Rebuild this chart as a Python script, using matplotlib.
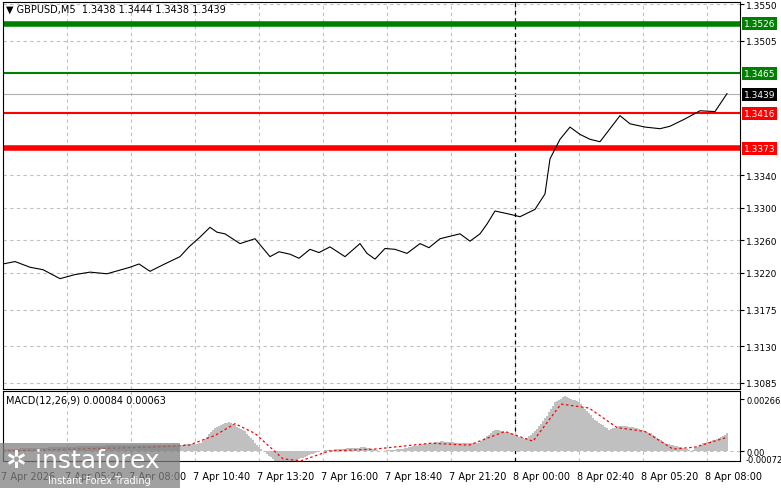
import matplotlib
matplotlib.use("Agg")
import matplotlib.pyplot as plt
import numpy as np
from matplotlib.patches import Rectangle

# bar index (5-min bars from 7 Apr 02:40)
price_bars = [0, 6, 13.5, 20, 28.5, 36, 43.5, 52, 63.5, 68, 73.5, 80, 88.5, 93, 98.5, 103.5, 107, 111, 118.5, 126, 133.5, 138, 143.5, 148, 153.5, 158, 163.5, 171, 178.5, 182, 186, 191, 196, 202, 208.5, 213, 218.5, 228.5, 233.5, 238.5, 242, 246, 253.5, 258.5, 266, 271, 273.5, 278.5, 283.5, 288.5, 293.5, 298.5, 303.5, 308.5, 313.5, 321, 328.5, 333.5, 341, 348.5, 356, 362]
prices = [1.3231, 1.3234, 1.3227, 1.3224, 1.3213, 1.3218, 1.3221, 1.3219, 1.3227, 1.3231, 1.3222, 1.3230, 1.3240, 1.3252, 1.3264, 1.3276, 1.3270, 1.3268, 1.3256, 1.3262, 1.3240, 1.3246, 1.3243, 1.3238, 1.3249, 1.3245, 1.3252, 1.3240, 1.3256, 1.3244, 1.3237, 1.3250, 1.3249, 1.3244, 1.3256, 1.3251, 1.3262, 1.3268, 1.3259, 1.3268, 1.3280, 1.3296, 1.3292, 1.3289, 1.3298, 1.3317, 1.3360, 1.3384, 1.3399, 1.3390, 1.3384, 1.3381, 1.3397, 1.3413, 1.3403, 1.3399, 1.3397, 1.3400, 1.3409, 1.3419, 1.3418, 1.3440]

macd_bars = [0, 28, 56, 86, 99, 106, 113, 121, 128, 136, 143, 151, 158, 168, 181, 189, 199, 208, 219, 229, 238, 246, 254, 261, 266, 272, 276, 281, 288, 296, 303, 309, 316, 324, 331, 339, 344, 350, 357, 362]
macd_hist = [0.0001, 0.0002, 0.0003, 0.0003, 0.0004, 0.0012, 0.0015, 0.0010, 0.0002, -0.0005, -0.0006, -0.0003, 0.0000, 0.0001, 0.0002, 0.0000, 0.0001, 0.0003, 0.0005, 0.0004, 0.0004, 0.0011, 0.0009, 0.0006, 0.0010, 0.0018, 0.0025, 0.0028, 0.0025, 0.0016, 0.0011, 0.0013, 0.0012, 0.0009, 0.0004, 0.0002, 0.0000, 0.0004, 0.0006, 0.0009]
sig_bars = [0, 37, 74, 93, 106, 116, 126, 140, 149, 163, 186, 214, 233, 251, 265, 279, 293, 307, 321, 335, 346, 362]
signal = [0.0000, 0.0001, 0.0002, 0.0003, 0.0008, 0.0014, 0.0009, -0.0004, -0.0005, 0.0000, 0.0001, 0.0004, 0.0003, 0.0010, 0.0005, 0.0024, 0.0022, 0.0012, 0.0010, 0.0001, 0.0002, 0.0007]

tick_bars = [0, 32, 64, 96, 128, 160, 192, 224, 256, 288, 320, 352]
tick_labels = ["7 Apr 2026", "7 Apr 05:20", "7 Apr 08:00", "7 Apr 10:40", "7 Apr 13:20", "7 Apr 16:00",
               "7 Apr 18:40", "7 Apr 21:20", "8 Apr 00:00", "8 Apr 02:40", "8 Apr 05:20", "8 Apr 08:00"]
price_ticks = [1.3550, 1.3505, 1.3340, 1.3300, 1.3260, 1.3220, 1.3175, 1.3130, 1.3085]
levels = [1.3526, 1.3465, 1.3416, 1.3373]
level_colors = ["#008000", "#008000", "#ff0000", "#ff0000"]
level_widths = [4, 1.5, 1.5, 4]
last_price = 1.3439

W, H = 781, 489
fig = plt.figure(figsize=(W/100, H/100), dpi=100)
fig.patch.set_facecolor("white")
L, R = 3/W, 740/W
ax = fig.add_axes([L, 1-390/H, R-L, (390-3)/H])
ax2 = fig.add_axes([L, 1-462/H, R-L, (462-392)/H])
xlim = (0, 368.5)
for a in (ax, ax2):
    a.set_xlim(*xlim)
    for t in tick_bars:
        a.axvline(t, color="#c0c0c0", ls=(0, (3, 3)), lw=0.8, zorder=0)
    a.axvline(256, color="black", ls=(0, (3, 3)), lw=0.9, zorder=1)
    a.tick_params(axis="x", length=0, labelbottom=False)
    a.yaxis.tick_right()
    a.tick_params(axis="y", direction="out", length=3, labelsize=6.5, pad=1.5)
    for s in a.spines.values():
        s.set_linewidth(0.8)

ax.set_ylim(1.3550 - 385/8150, 1.3550 + 2/8150)
for p in price_ticks:
    ax.axhline(p, color="#c0c0c0", ls=(0, (3, 3)), lw=0.8, zorder=0)
ax.set_yticks(price_ticks)
ax.set_yticklabels([f"{p:.4f}" for p in price_ticks])
ax.plot(price_bars, prices, color="black", lw=0.8, zorder=3)
ax.axhline(last_price, color="#b0b0b0", lw=0.8, zorder=2)
for lv, c, w in zip(levels, level_colors, level_widths):
    ax.axhline(lv, color=c, lw=w, zorder=2)
    ax.annotate(f"{lv:.4f}", xy=(1.005, lv), xycoords=("axes fraction", "data"), fontsize=6.5,
                color="white", va="center", ha="left", annotation_clip=False,
                bbox=dict(boxstyle="square,pad=0.2", fc=c, ec="none"))
ax.annotate(f"{last_price:.4f}", xy=(1.005, last_price), xycoords=("axes fraction", "data"), fontsize=6.5,
            color="white", va="center", ha="left", annotation_clip=False,
            bbox=dict(boxstyle="square,pad=0.2", fc="black", ec="none"))
ax.text(0.004, 0.995, "▼ GBPUSD,M5  1.3438 1.3444 1.3438 1.3439", transform=ax.transAxes,
        fontsize=7, va="top", ha="left")

# MACD
xs = np.arange(0, 363)
hist = np.interp(xs, macd_bars, macd_hist)
ax2.bar(xs, hist, width=1.0, color="#c0c0c0", zorder=2)
ax2.plot(sig_bars, signal, color="red", ls=(0, (2, 2)), lw=0.9, zorder=3)
ax2.set_ylim(-0.00051, 0.00307)
ax2.axhline(0, color="#c0c0c0", ls=(0, (3, 3)), lw=0.8, zorder=0)
ax2.set_yticks([0.00266, 0.0])
ax2.set_yticklabels(["0.00266", "0.00"], fontsize=6)
ax2.text(1.008, -0.00045, "-0.00072", transform=ax2.get_yaxis_transform(), fontsize=6,
         va="center", ha="left", clip_on=False)
ax2.text(0.004, 0.95, "MACD(12,26,9) 0.00084 0.00063", transform=ax2.transAxes,
         fontsize=7, va="top", ha="left")

# time labels
for t, lab in zip(tick_bars, tick_labels):
    xf = L + (t - xlim[0]) / (xlim[1] - xlim[0]) * (R - L)
    fig.text(xf - 2/W, 1-477/H, lab, fontsize=7, va="center", ha="left")

# watermark
fig.patches.append(Rectangle((0, 0), 180/W, 45/H, transform=fig.transFigure,
                             fc="#808080", ec="none", alpha=0.75, zorder=10))
fig.text(6/W, 1-461/H, "✲ instaforex", fontsize=18, color="white", va="center", ha="left", zorder=11)
fig.text(48/W, 1-481/H, "Instant Forex Trading", fontsize=7, color="white", va="center", ha="left", zorder=11)

fig.savefig("out.png", dpi=100)
